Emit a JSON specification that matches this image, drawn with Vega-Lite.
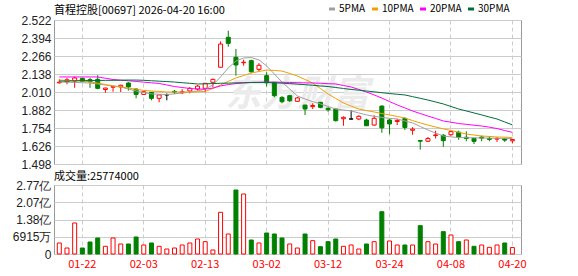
{
 "$schema": "https://vega.github.io/schema/vega-lite/v6.json",
 "padding": {"left": 8, "top": 3, "right": 5, "bottom": 0},
 "spacing": -1,
 "background": "#ffffff",
 "config": {
  "view": {"stroke": "#999999", "strokeWidth": 1},
  "font": "Noto Sans CJK SC",
  "axis": {"labelFont": "Liberation Sans", "labelFontSize": 12, "labelColor": "#222222", "title": null, "labelOverlap": false}
 },
 "resolve": {"scale": {"y": "independent", "color": "independent"}, "legend": {"color": "independent"}},
 "data": {"values": [
  {"d":"01-19","o":2.075,"h":2.100,"l":2.070,"c":2.080,"v":4410,"vu":1,"ma5":2.081,"ma10":2.095,"ma20":2.117,"ma30":2.088},
  {"d":"01-20","o":2.083,"h":2.110,"l":2.065,"c":2.097,"v":2405,"vu":1,"ma5":2.080,"ma10":2.093,"ma20":2.117,"ma30":2.088},
  {"d":"01-21","o":2.088,"h":2.120,"l":2.040,"c":2.110,"v":12428,"vu":1,"ma5":2.078,"ma10":2.090,"ma20":2.117,"ma30":2.090},
  {"d":"01-22","o":2.107,"h":2.110,"l":2.080,"c":2.086,"v":2405,"vu":0,"ma5":2.076,"ma10":2.088,"ma20":2.117,"ma30":2.091},
  {"d":"01-23","o":2.098,"h":2.110,"l":2.040,"c":2.083,"v":4811,"vu":0,"ma5":2.074,"ma10":2.081,"ma20":2.117,"ma30":2.091},
  {"d":"01-26","o":2.100,"h":2.130,"l":2.030,"c":2.036,"v":6414,"vu":0,"ma5":2.067,"ma10":2.074,"ma20":2.117,"ma30":2.092},
  {"d":"01-27","o":2.028,"h":2.040,"l":2.005,"c":2.038,"v":3087,"vu":1,"ma5":2.060,"ma10":2.063,"ma20":2.108,"ma30":2.093},
  {"d":"01-28","o":2.044,"h":2.053,"l":2.012,"c":2.050,"v":6414,"vu":1,"ma5":2.053,"ma10":2.053,"ma20":2.099,"ma30":2.093},
  {"d":"01-29","o":2.046,"h":2.062,"l":2.010,"c":2.058,"v":4009,"vu":1,"ma5":2.046,"ma10":2.046,"ma20":2.094,"ma30":2.094},
  {"d":"01-30","o":2.074,"h":2.080,"l":2.020,"c":2.046,"v":4009,"vu":0,"ma5":2.031,"ma10":2.038,"ma20":2.090,"ma30":2.095},
  {"d":"02-02","o":2.031,"h":2.035,"l":1.965,"c":1.993,"v":6815,"vu":0,"ma5":2.017,"ma10":2.030,"ma20":2.085,"ma30":2.095},
  {"d":"02-03","o":1.993,"h":2.015,"l":1.990,"c":2.012,"v":3608,"vu":1,"ma5":2.006,"ma10":2.021,"ma20":2.080,"ma30":2.093},
  {"d":"02-04","o":2.008,"h":2.010,"l":1.951,"c":1.965,"v":4410,"vu":0,"ma5":1.996,"ma10":2.017,"ma20":2.075,"ma30":2.090},
  {"d":"02-05","o":1.965,"h":1.990,"l":1.937,"c":1.989,"v":3087,"vu":1,"ma5":1.994,"ma10":2.014,"ma20":2.071,"ma30":2.087},
  {"d":"02-06","o":1.990,"h":2.000,"l":1.951,"c":1.990,"v":2004,"vu":1,"ma5":1.992,"ma10":2.010,"ma20":2.060,"ma30":2.084},
  {"d":"02-09","o":2.015,"h":2.025,"l":1.995,"c":2.010,"v":2405,"vu":1,"ma5":1.997,"ma10":2.010,"ma20":2.049,"ma30":2.081},
  {"d":"02-10","o":2.005,"h":2.030,"l":1.995,"c":2.012,"v":3608,"vu":1,"ma5":2.003,"ma10":2.010,"ma20":2.042,"ma30":2.076},
  {"d":"02-11","o":2.017,"h":2.045,"l":2.000,"c":2.036,"v":4410,"vu":1,"ma5":2.010,"ma10":2.010,"ma20":2.035,"ma30":2.072},
  {"d":"02-12","o":2.031,"h":2.060,"l":2.020,"c":2.052,"v":6013,"vu":1,"ma5":2.017,"ma10":2.011,"ma20":2.031,"ma30":2.067},
  {"d":"02-13","o":2.036,"h":2.074,"l":2.008,"c":2.072,"v":4944,"vu":1,"ma5":2.031,"ma10":2.014,"ma20":2.031,"ma30":2.068},
  {"d":"02-16","o":2.079,"h":2.105,"l":2.043,"c":2.100,"v":1604,"vu":1,"ma5":2.060,"ma10":2.035,"ma20":2.038,"ma30":2.070},
  {"d":"02-20","o":2.186,"h":2.370,"l":2.186,"c":2.351,"v":16717,"vu":1,"ma5":2.117,"ma10":2.060,"ma20":2.053,"ma30":2.072},
  {"d":"02-23","o":2.399,"h":2.446,"l":2.332,"c":2.356,"v":8018,"vu":1,"ma5":2.181,"ma10":2.085,"ma20":2.063,"ma30":2.073},
  {"d":"02-24","o":2.257,"h":2.316,"l":2.126,"c":2.202,"v":25658,"vu":0,"ma5":2.230,"ma10":2.110,"ma20":2.070,"ma30":2.075},
  {"d":"02-25","o":2.218,"h":2.240,"l":2.197,"c":2.222,"v":24054,"vu":1,"ma5":2.252,"ma10":2.127,"ma20":2.074,"ma30":2.076},
  {"d":"02-26","o":2.233,"h":2.240,"l":2.145,"c":2.154,"v":5613,"vu":0,"ma5":2.255,"ma10":2.145,"ma20":2.078,"ma30":2.078},
  {"d":"02-27","o":2.171,"h":2.215,"l":2.154,"c":2.200,"v":4410,"vu":1,"ma5":2.238,"ma10":2.156,"ma20":2.079,"ma30":2.078},
  {"d":"03-02","o":2.126,"h":2.150,"l":2.050,"c":2.075,"v":8419,"vu":0,"ma5":2.195,"ma10":2.166,"ma20":2.081,"ma30":2.078},
  {"d":"03-03","o":2.079,"h":2.080,"l":1.972,"c":1.984,"v":8018,"vu":0,"ma5":2.138,"ma10":2.163,"ma20":2.080,"ma30":2.075},
  {"d":"03-04","o":1.972,"h":1.980,"l":1.930,"c":1.941,"v":6414,"vu":0,"ma5":2.081,"ma10":2.159,"ma20":2.079,"ma30":2.073},
  {"d":"03-05","o":1.984,"h":1.990,"l":1.940,"c":1.948,"v":4009,"vu":1,"ma5":2.031,"ma10":2.142,"ma20":2.078,"ma30":2.070},
  {"d":"03-06","o":1.944,"h":1.975,"l":1.940,"c":1.968,"v":2405,"vu":1,"ma5":1.982,"ma10":2.124,"ma20":2.076,"ma30":2.066},
  {"d":"03-09","o":1.917,"h":1.920,"l":1.846,"c":1.889,"v":8018,"vu":0,"ma5":1.960,"ma10":2.099,"ma20":2.075,"ma30":2.062},
  {"d":"03-10","o":1.906,"h":1.930,"l":1.889,"c":1.914,"v":5345,"vu":1,"ma5":1.942,"ma10":2.074,"ma20":2.074,"ma30":2.058},
  {"d":"03-11","o":1.937,"h":1.940,"l":1.895,"c":1.901,"v":2940,"vu":0,"ma5":1.925,"ma10":2.035,"ma20":2.072,"ma30":2.053},
  {"d":"03-12","o":1.894,"h":1.900,"l":1.870,"c":1.884,"v":4944,"vu":0,"ma5":1.907,"ma10":1.996,"ma20":2.069,"ma30":2.049},
  {"d":"03-13","o":1.889,"h":1.890,"l":1.800,"c":1.806,"v":6013,"vu":0,"ma5":1.889,"ma10":1.964,"ma20":2.067,"ma30":2.042},
  {"d":"03-16","o":1.820,"h":1.837,"l":1.770,"c":1.830,"v":3087,"vu":1,"ma5":1.882,"ma10":1.932,"ma20":2.056,"ma30":2.035},
  {"d":"03-17","o":1.818,"h":1.880,"l":1.815,"c":1.818,"v":3608,"vu":1,"ma5":1.875,"ma10":1.910,"ma20":2.046,"ma30":2.028},
  {"d":"03-18","o":1.818,"h":1.845,"l":1.810,"c":1.837,"v":2004,"vu":1,"ma5":1.861,"ma10":1.889,"ma20":2.028,"ma30":2.023},
  {"d":"03-19","o":1.811,"h":1.820,"l":1.770,"c":1.770,"v":4009,"vu":0,"ma5":1.847,"ma10":1.878,"ma20":2.010,"ma30":2.017},
  {"d":"03-20","o":1.775,"h":1.845,"l":1.770,"c":1.823,"v":4944,"vu":1,"ma5":1.837,"ma10":1.868,"ma20":1.989,"ma30":2.011},
  {"d":"03-23","o":1.910,"h":1.915,"l":1.720,"c":1.755,"v":16960,"vu":0,"ma5":1.829,"ma10":1.857,"ma20":1.967,"ma30":2.005},
  {"d":"03-24","o":1.811,"h":1.820,"l":1.710,"c":1.783,"v":5212,"vu":1,"ma5":1.823,"ma10":1.847,"ma20":1.942,"ma30":1.999},
  {"d":"03-25","o":1.800,"h":1.820,"l":1.775,"c":1.808,"v":3608,"vu":1,"ma5":1.818,"ma10":1.836,"ma20":1.918,"ma30":1.994},
  {"d":"03-26","o":1.822,"h":1.830,"l":1.740,"c":1.758,"v":3608,"vu":0,"ma5":1.804,"ma10":1.825,"ma20":1.897,"ma30":1.989},
  {"d":"03-27","o":1.738,"h":1.760,"l":1.706,"c":1.746,"v":3608,"vu":1,"ma5":1.790,"ma10":1.807,"ma20":1.875,"ma30":1.977},
  {"d":"03-30","o":1.665,"h":1.667,"l":1.600,"c":1.660,"v":11358,"vu":0,"ma5":1.765,"ma10":1.790,"ma20":1.857,"ma30":1.965},
  {"d":"03-31","o":1.660,"h":1.690,"l":1.655,"c":1.679,"v":4944,"vu":1,"ma5":1.740,"ma10":1.775,"ma20":1.839,"ma30":1.953},
  {"d":"04-01","o":1.700,"h":1.735,"l":1.680,"c":1.705,"v":4009,"vu":1,"ma5":1.718,"ma10":1.761,"ma20":1.822,"ma30":1.939},
  {"d":"04-02","o":1.703,"h":1.710,"l":1.620,"c":1.664,"v":8954,"vu":0,"ma5":1.697,"ma10":1.748,"ma20":1.804,"ma30":1.925},
  {"d":"04-08","o":1.706,"h":1.735,"l":1.700,"c":1.728,"v":7617,"vu":1,"ma5":1.691,"ma10":1.736,"ma20":1.795,"ma30":1.907},
  {"d":"04-09","o":1.724,"h":1.735,"l":1.670,"c":1.688,"v":4944,"vu":0,"ma5":1.686,"ma10":1.724,"ma20":1.786,"ma30":1.889},
  {"d":"04-10","o":1.688,"h":1.730,"l":1.660,"c":1.680,"v":5613,"vu":1,"ma5":1.685,"ma10":1.711,"ma20":1.780,"ma30":1.875},
  {"d":"04-13","o":1.681,"h":1.685,"l":1.640,"c":1.659,"v":3087,"vu":0,"ma5":1.684,"ma10":1.704,"ma20":1.774,"ma30":1.861},
  {"d":"04-14","o":1.690,"h":1.700,"l":1.660,"c":1.682,"v":3608,"vu":1,"ma5":1.683,"ma10":1.697,"ma20":1.768,"ma30":1.847},
  {"d":"04-15","o":1.680,"h":1.695,"l":1.660,"c":1.673,"v":2673,"vu":1,"ma5":1.682,"ma10":1.694,"ma20":1.760,"ma30":1.832},
  {"d":"04-16","o":1.675,"h":1.690,"l":1.655,"c":1.680,"v":3608,"vu":1,"ma5":1.681,"ma10":1.690,"ma20":1.750,"ma30":1.818},
  {"d":"04-17","o":1.678,"h":1.685,"l":1.655,"c":1.668,"v":4410,"vu":0,"ma5":1.680,"ma10":1.689,"ma20":1.736,"ma30":1.797},
  {"d":"04-20","o":1.663,"h":1.675,"l":1.645,"c":1.672,"v":2577,"vu":1,"ma5":1.679,"ma10":1.686,"ma20":1.723,"ma30":1.776}
 ]},
 "vconcat": [
  {
   "width": 467, "height": 144,
   "title": {"text": "首程控股[00697] 2026-04-20 16:00", "anchor": "start", "frame": "group", "font": "Noto Sans CJK SC", "fontSize": 11, "fontWeight": "normal", "color": "#000000", "offset": -12},
   "encoding": {
    "x": {"field": "d", "type": "ordinal",
     "scale": {"domain": ["01-19","01-20","01-21","01-22","01-23","01-26","01-27","01-28","01-29","01-30","02-02","02-03","02-04","02-05","02-06","02-09","02-10","02-11","02-12","02-13","02-16","02-20","02-23","02-24","02-25","02-26","02-27","03-02","03-03","03-04","03-05","03-06","03-09","03-10","03-11","03-12","03-13","03-16","03-17","03-18","03-19","03-20","03-23","03-24","03-25","03-26","03-27","03-30","03-31","04-01","04-02","04-08","04-09","04-10","04-13","04-14","04-15","04-16","04-17","04-20"], "paddingInner": 0, "paddingOuter": 0.405, "align": 0.235},
     "axis": {"values": ["01-22","02-03","02-13","03-02","03-12","03-24","04-08","04-20"], "grid": true, "gridDash": [4,3], "gridColor": "#cccccc", "labels": false, "ticks": false, "domain": false, "title": null, "minExtent": 0, "maxExtent": 0}}
   },
   "layer": [
    {
     "data": {"values": [{"w": "东方财富"}]},
     "mark": {"type": "text", "fontSize": 36, "fontWeight": "bold", "fontStyle": "italic", "color": "#ebebeb", "font": "Noto Sans CJK SC"},
     "encoding": {"x": {"datum": "03-06"}, "y": {"datum": 1.990, "type": "quantitative", "scale": {"domain": [1.498, 2.522], "nice": false, "zero": false},
       "axis": {"values": [1.498,1.626,1.754,1.882,2.010,2.138,2.266,2.394,2.522], "tickCount": 9, "format": ".3f", "grid": true, "gridColor": "#cccccc", "ticks": false, "domain": false, "labelPadding": 3, "labelOverlap": false, "minExtent": 45, "maxExtent": 45, "title": null}}, "text": {"field": "w"}}
    },
    {
     "mark": {"type": "rule", "strokeWidth": 1},
     "encoding": {
      "y": {"field": "l", "type": "quantitative", "axis": {"values": [1.498,1.626,1.754,1.882,2.010,2.138,2.266,2.394,2.522], "tickCount": 9, "labelOverlap": false, "title": null}},
      "y2": {"field": "h"},
      "color": {"condition": [{"test": "datum.c > datum.o", "value": "#ff0000"}, {"test": "datum.c < datum.o", "value": "#008000"}], "value": "#000000"}
     }
    },
    {
     "mark": {"type": "bar", "size": 4, "strokeWidth": 1},
     "encoding": {
      "y": {"field": "o", "type": "quantitative", "axis": {"values": [1.498,1.626,1.754,1.882,2.010,2.138,2.266,2.394,2.522], "tickCount": 9, "labelOverlap": false, "title": null}},
      "y2": {"field": "c"},
      "fill": {"condition": [{"test": "datum.c > datum.o", "value": "#ffffff"}, {"test": "datum.c < datum.o", "value": "#008000"}], "value": "#000000"},
      "stroke": {"condition": [{"test": "datum.c > datum.o", "value": "#ff0000"}, {"test": "datum.c < datum.o", "value": "#008000"}], "value": "#000000"}
     }
    },
    {
     "transform": [{"fold": ["ma5","ma10","ma20","ma30"], "as": ["k","val"]}],
     "mark": {"type": "line", "strokeWidth": 1},
     "encoding": {
      "y": {"field": "val", "type": "quantitative", "axis": {"values": [1.498,1.626,1.754,1.882,2.010,2.138,2.266,2.394,2.522], "tickCount": 9, "labelOverlap": false, "title": null}},
      "color": {"field": "k", "type": "nominal",
       "scale": {"domain": ["ma5","ma10","ma20","ma30"], "range": ["#a0a0a0","#f0a000","#ff00ff","#006e3a"]},
       "legend": {"orient": "none", "legendX": 273, "legendY": -16, "direction": "horizontal", "title": null,
        "labelExpr": "{'ma5':'5PMA','ma10':'10PMA','ma20':'20PMA','ma30':'30PMA'}[datum.label]",
        "symbolType": "stroke", "symbolSize": 36, "symbolStrokeWidth": 3,
        "labelFont": "Noto Sans CJK SC", "labelFontSize": 10, "labelColor": "#000000", "labelOffset": 2, "columnPadding": 0}}
     }
    }
   ]
  },
  {
   "width": 467, "height": 69,
   "title": {"text": "成交量:25774000", "anchor": "start", "frame": "group", "font": "Noto Sans CJK SC", "fontSize": 11, "fontWeight": "normal", "color": "#000000", "offset": -3},
   "mark": {"type": "bar", "size": 4, "strokeWidth": 1},
   "encoding": {
    "x": {"field": "d", "type": "ordinal",
     "scale": {"domain": ["01-19","01-20","01-21","01-22","01-23","01-26","01-27","01-28","01-29","01-30","02-02","02-03","02-04","02-05","02-06","02-09","02-10","02-11","02-12","02-13","02-16","02-20","02-23","02-24","02-25","02-26","02-27","03-02","03-03","03-04","03-05","03-06","03-09","03-10","03-11","03-12","03-13","03-16","03-17","03-18","03-19","03-20","03-23","03-24","03-25","03-26","03-27","03-30","03-31","04-01","04-02","04-08","04-09","04-10","04-13","04-14","04-15","04-16","04-17","04-20"], "paddingInner": 0, "paddingOuter": 0.405, "align": 0.235},
     "axis": {"values": ["01-22","02-03","02-13","03-02","03-12","03-24","04-08","04-20"], "grid": true, "gridDash": [4,3], "gridColor": "#cccccc", "ticks": false, "domain": false, "labelAngle": 0, "labelColor": "#ff0000", "labelFont": "Noto Sans CJK SC", "labelFontSize": 11, "labelPadding": 4, "title": null}},
    "y": {"field": "v", "type": "quantitative", "scale": {"domain": [0, 27660], "nice": false},
     "axis": {"values": [0, 6915, 13830, 20745, 27660], "tickCount": 5, "labelExpr": "datum.value == 0 ? '0' : (datum.value >= 10000 ? format(datum.value / 10000, '.2f') + '亿' : datum.value + '万')", "grid": true, "gridColor": "#cccccc", "ticks": false, "domain": false, "labelPadding": 3, "labelOverlap": false, "minExtent": 45, "maxExtent": 45, "title": null}},
    "fill": {"condition": {"test": "datum.vu == 1", "value": "#ffffff"}, "value": "#008000"},
    "stroke": {"condition": {"test": "datum.vu == 1", "value": "#ff0000"}, "value": "#008000"}
   }
  }
 ]
}
